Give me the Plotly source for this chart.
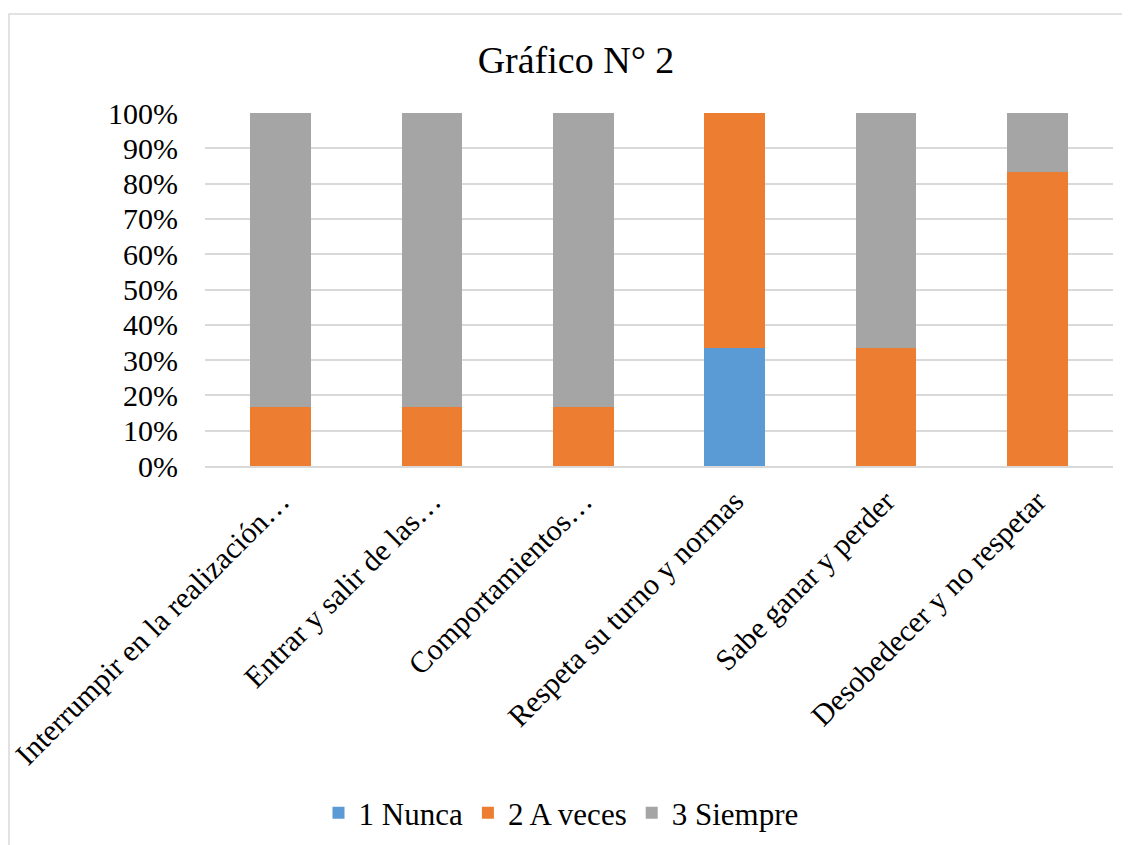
import plotly.graph_objects as go

categories = [
    "Interrumpir en la realización…",
    "Entrar y salir de las…",
    "Comportamientos…",
    "Respeta su turno y normas",
    "Sabe ganar y perder",
    "Desobedecer y no respetar",
]
series_names = ["1 Nunca", "2 A veces", "3 Siempre"]
nunca = [0, 0, 0, 2, 0, 0]
a_veces = [1, 1, 1, 4, 2, 5]
siempre = [5, 5, 5, 0, 4, 1]
colors = ["#5B9BD5", "#ED7D31", "#A5A5A5"]
y_ticks = [0, 10, 20, 30, 40, 50, 60, 70, 80, 90, 100]

values = [nunca, a_veces, siempre]
totals = [sum(v[i] for v in values) for i in range(len(categories))]

FONT = "Liberation Serif, Times New Roman, serif"

fig = go.Figure()
for name, vals, col in zip(series_names, values, colors):
    pct = [100.0 * v / t if t else 0 for v, t in zip(vals, totals)]
    fig.add_trace(go.Bar(
        x=categories, y=pct, name=name,
        marker=dict(color=col, line=dict(width=0)),
    ))

# page body has an 8px margin, so the figure is 8px smaller and coordinates shifted
OFF = 8
W, H = 1130 - OFF, 845 - OFF
L, T = 205 - OFF, 113 - OFF
R = W - (1113 - OFF)
B = H - (466 - OFF)
pw, ph = W - L - R, H - T - B
y_axis_px = 466 - OFF

fig.update_layout(
    width=W, height=H,
    barmode="stack", bargap=0.6,
    paper_bgcolor="white", plot_bgcolor="white",
    margin=dict(l=L, r=R, t=T, b=B, autoexpand=False),
    font=dict(family=FONT, size=30, color="black"),
    title=dict(text="Gráfico N° 2", font=dict(family=FONT, size=38, color="black"),
               x=(576 - OFF) / W, xref="container", xanchor="center",
               y=1 - (60 - OFF) / H, yref="container", yanchor="middle"),
    legend=dict(orientation="h", xref="container", x=(561 - OFF) / W, xanchor="center",
                yref="container", y=1 - (813 - OFF) / H, yanchor="middle",
                font=dict(family=FONT, size=31, color="black"),
                itemsizing="constant", traceorder="normal", itemwidth=30),
    xaxis=dict(tickangle=-45, tickfont=dict(family=FONT, size=30, color="black"),
               showline=True, linecolor="#D9D9D9", linewidth=1.5, ticks="",
               automargin=False, ticklabelstandoff=4),
    yaxis=dict(range=[0, 100], tickvals=y_ticks,
               ticktext=[f"{v}%" for v in y_ticks],
               tickfont=dict(family=FONT, size=30, color="black"),
               showgrid=True, gridcolor="#D9D9D9", gridwidth=1.5,
               zeroline=False, ticks="", automargin=False,
               ticklabelstandoff=26),
    shapes=[dict(type="rect", xref="paper", yref="paper",
                 x0=(9 - OFF - L) / pw, x1=(W + 20 - L) / pw,
                 y0=(y_axis_px - (H + 20)) / ph, y1=(y_axis_px - (14 - OFF)) / ph,
                 line=dict(color="#D9D9D9", width=1.5), fillcolor="rgba(0,0,0,0)",
                 layer="below")],
)

fig.write_html("out.html")
